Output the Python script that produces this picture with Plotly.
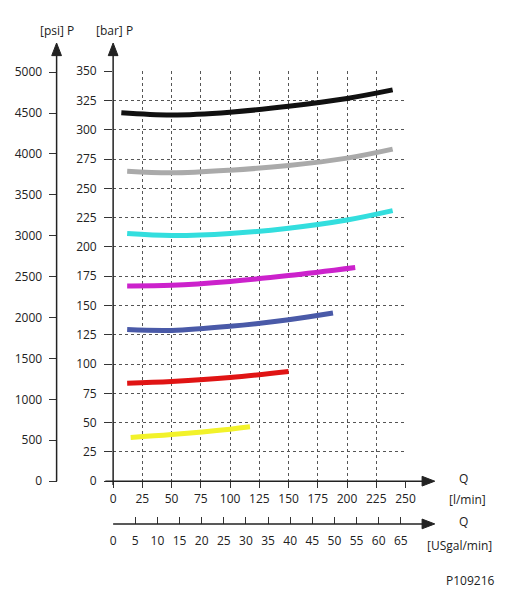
import plotly.graph_objects as go

W, H = 512, 598

# ---- data ----
flow_black = [7, 50, 100, 150, 200, 239]
p_black = [314.5, 312.6, 315.0, 320.0, 326.7, 334.0]
flow_gray = [12, 50, 100, 150, 200, 239]
p_gray = [264.5, 263.2, 265.5, 269.5, 275.8, 283.5]
flow_cyan = [12, 50, 100, 150, 200, 239]
p_cyan = [211.5, 209.8, 211.5, 216.0, 223.0, 231.0]
flow_magenta = [12, 50, 100, 150, 207]
p_magenta = [166.7, 167.2, 170.5, 175.5, 182.4]
flow_blue = [12, 50, 100, 150, 188]
p_blue = [129.4, 128.7, 132.2, 137.8, 143.5]
flow_red = [12, 50, 100, 150]
p_red = [83.7, 85.2, 88.5, 93.7]
flow_yellow = [15, 50, 100, 117]
p_yellow = [37.3, 39.8, 44.4, 46.4]

bar_ticks = list(range(0, 351, 25))
psi_ticks = list(range(0, 5001, 500))
lmin_ticks = list(range(0, 251, 25))
gal_ticks = list(range(0, 66, 5))
LPM_PER_GAL = 3.785

series = [
    (flow_black, p_black, "#111111"),
    (flow_gray, p_gray, "#aaaaaa"),
    (flow_cyan, p_cyan, "#33dede"),
    (flow_magenta, p_magenta, "#cc22cc"),
    (flow_blue, p_blue, "#4a5aa8"),
    (flow_red, p_red, "#e01414"),
    (flow_yellow, p_yellow, "#f2f22a"),
]


def px(x):
    return x / W


def py(y):
    return 1 - y / H


fig = go.Figure()
for xs, ys, c in series:
    fig.add_trace(go.Scatter(x=xs, y=ys, mode="lines",
                             line=dict(color=c, width=5, shape="spline", smoothing=1.0),
                             showlegend=False, hoverinfo="skip"))

# invisible traces to activate secondary axes
fig.add_trace(go.Scatter(x=[0], y=[0], yaxis="y2", mode="markers",
                         marker=dict(opacity=0), showlegend=False, hoverinfo="skip"))
fig.add_trace(go.Scatter(x=[0], y=[0], xaxis="x2", mode="markers",
                         marker=dict(opacity=0), showlegend=False, hoverinfo="skip"))

font = dict(family="Open Sans", size=12, color="#222222")
grid = dict(showgrid=True, gridcolor="#555555", gridwidth=1, griddash="dot",
            zeroline=False, showline=False)

ydom = [py(486), py(64)]
fig.update_layout(
    width=W, height=H, margin=dict(l=0, r=0, t=0, b=0),
    paper_bgcolor="white", plot_bgcolor="white", font=font,
    xaxis=dict(domain=[px(113), px(413)], range=[0, 250], tickvals=lmin_ticks,
               ticks="outside", ticklen=6, tickcolor="#333", tickfont=font,
               ticklabelstandoff=0, **grid),
    yaxis=dict(domain=ydom, range=[0, 350], tickvals=bar_ticks,
               ticks="outside", ticklen=8, tickcolor="#333", tickfont=font,
               ticklabelstandoff=5, **grid),
    yaxis2=dict(overlaying="y", anchor="free", position=px(55), side="left",
                range=[0, 5000 * (486 - 64) / (486 - 65)], tickvals=psi_ticks,
                ticks="outside", ticklen=8, tickcolor="#333", tickfont=font,
                ticklabelstandoff=4, showgrid=False, zeroline=False, showline=False),
    xaxis2=dict(overlaying="x", anchor="free", position=py(530), side="bottom",
                range=[0, 250 / LPM_PER_GAL], tickvals=gal_ticks,
                ticks="inside", ticklen=7, tickcolor="#333", tickfont=font,
                ticklabelstandoff=8, showgrid=False, zeroline=False, showline=False),
)

# axis lines with arrow heads
lc = "#222222"
lines = [
    (55, 486, 55, 42),      # psi axis
    (113, 490, 113, 42),    # bar axis
    (105, 486, 432, 486),   # l/min axis
    (113, 530, 432, 530),   # gal axis
]
for x0, y0, x1, y1 in lines:
    fig.add_shape(type="line", xref="paper", yref="paper",
                  x0=px(x0), y0=py(y0), x1=px(x1), y1=py(y1),
                  line=dict(color=lc, width=1.5))


def tri(pts):
    d = "M " + " L ".join(f"{px(a)} {py(b)}" for a, b in pts) + " Z"
    fig.add_shape(type="path", xref="paper", yref="paper", path=d,
                  fillcolor=lc, line=dict(color=lc, width=1))


for ax in (55, 113):
    tri([(ax, 35), (ax - 5, 48), (ax + 5, 48)])
for ay in (486, 530):
    tri([(443, ay), (430, ay - 5), (430, ay + 5)])

texts = [
    ("[psi] P", 55, 22),
    ("[bar] P", 114, 22),
    ("Q", 472, 483),
    ("[l/min]", 477, 505),
    ("Q", 472, 528),
    ("[USgal/min]", 468, 552),
    ("P109216", 480, 588),
]
for t, x, y in texts:
    fig.add_annotation(text=t, x=px(x), y=py(y), xref="paper", yref="paper",
                       showarrow=False, font=font, xanchor="center", yanchor="middle")

fig.write_html("out.html")
